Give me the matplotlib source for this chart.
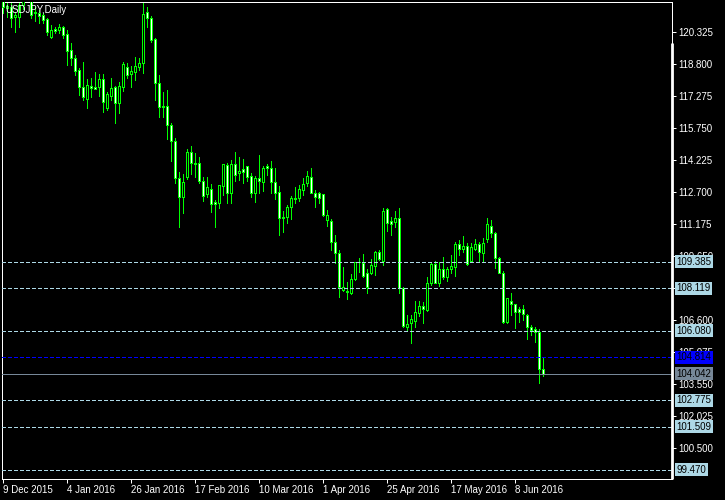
import matplotlib
matplotlib.use("Agg")
import matplotlib.pyplot as plt
import matplotlib.transforms as mtransforms
from matplotlib.patches import Rectangle

# USDJPY daily candles, 9 Dec 2015 .. 17 Jun 2016
opens = [121.90, 121.45, 121.53, 121.02, 121.06, 121.61, 122.20, 122.60, 121.21, 121.21,
         121.13, 120.94, 120.10, 120.45, 120.42, 120.55, 120.23, 119.47, 119.07, 118.51,
         117.69, 117.12, 117.77, 117.69, 117.69, 118.08, 116.69, 117.27, 117.69, 116.92,
         117.69, 118.67, 118.32, 118.43, 118.67, 118.83, 121.30, 120.98, 119.97, 117.91,
         116.82, 116.82, 115.89, 115.15, 113.35, 112.44, 113.40, 114.59, 114.07, 114.07,
         113.24, 112.60, 112.83, 112.24, 112.16, 112.99, 113.99, 112.67, 114.03, 113.62,
         113.78, 113.94, 113.46, 112.64, 113.35, 113.19, 113.94, 113.83, 113.19, 112.72,
         111.44, 111.52, 111.97, 112.40, 112.40, 112.80, 113.11, 113.43, 112.67, 112.64,
         112.60, 111.36, 111.33, 110.33, 109.78, 108.03, 107.97, 107.90, 108.54, 109.38,
         109.33, 108.82, 108.82, 109.19, 109.82, 109.43, 111.87, 111.32, 111.29, 111.45,
         108.11, 106.25, 106.44, 106.57, 106.95, 107.27, 107.08, 108.35, 109.27, 108.38,
         109.01, 108.63, 109.01, 109.11, 110.22, 109.97, 110.13, 109.43, 110.00, 110.22,
         109.78, 110.44, 111.08, 110.73, 109.54, 108.85, 106.52, 107.52, 107.36, 107.11,
         107.11, 106.84, 106.25, 106.15, 106.04, 104.25]
highs = [122.30, 121.75, 121.70, 121.29, 121.80, 122.30, 123.00, 122.90, 121.53, 121.37,
         121.21, 120.98, 120.66, 120.58, 120.71, 120.61, 120.42, 119.78, 119.23, 118.59,
         118.91, 118.08, 118.12, 118.43, 118.32, 118.32, 117.48, 118.12, 117.75, 117.96,
         118.91, 118.86, 118.70, 119.12, 119.07, 121.69, 121.53, 121.09, 120.02, 118.28,
         117.48, 117.56, 116.00, 115.26, 113.67, 113.56, 114.73, 114.89, 114.57, 114.35,
         113.40, 113.40, 113.08, 112.32, 113.02, 114.03, 114.07, 114.22, 114.62, 114.35,
         114.26, 113.94, 113.59, 113.46, 114.46, 113.94, 114.03, 114.19, 113.83, 112.99,
         111.81, 112.08, 112.51, 112.95, 113.03, 113.35, 113.72, 113.83, 112.80, 112.72,
         112.60, 111.84, 111.40, 110.65, 109.93, 109.11, 108.43, 108.79, 109.38, 109.54,
         109.74, 109.01, 109.49, 109.90, 109.93, 111.92, 111.92, 111.52, 111.81, 111.92,
         108.19, 106.84, 106.84, 107.52, 107.52, 107.47, 108.63, 109.38, 109.43, 109.38,
         109.58, 109.14, 109.70, 110.33, 110.41, 110.60, 110.25, 110.25, 110.44, 110.33,
         110.49, 111.44, 111.36, 110.80, 109.62, 108.95, 107.63, 107.90, 107.36, 107.24,
         107.31, 106.88, 106.36, 106.25, 106.15, 104.85]
lows = [121.25, 121.05, 120.58, 120.34, 120.58, 121.40, 122.00, 120.98, 120.86, 120.74,
        120.74, 120.18, 120.02, 120.26, 120.29, 120.02, 118.75, 118.75, 118.28, 117.32,
        117.08, 116.72, 117.24, 117.60, 117.27, 116.53, 116.61, 117.08, 115.97, 116.48,
        117.53, 118.12, 117.69, 118.04, 118.51, 118.39, 120.58, 119.86, 117.08, 116.29,
        116.29, 115.21, 114.19, 113.11, 111.01, 111.68, 113.30, 113.56, 113.40, 113.14,
        112.29, 112.45, 111.76, 111.05, 111.92, 112.56, 112.16, 112.16, 113.24, 113.27,
        113.14, 113.24, 112.45, 112.24, 112.64, 112.76, 113.51, 112.64, 112.35, 110.65,
        110.81, 111.24, 111.40, 112.16, 112.29, 112.56, 112.99, 112.64, 111.97, 112.16,
        111.56, 111.08, 109.94, 109.33, 107.68, 108.00, 107.58, 107.84, 108.50, 108.90,
        108.63, 107.87, 108.77, 108.74, 109.46, 109.22, 110.86, 110.65, 111.05, 107.87,
        106.25, 106.09, 105.52, 106.25, 106.79, 106.44, 107.04, 108.27, 108.35, 108.22,
        108.54, 108.47, 108.82, 108.70, 109.70, 109.86, 109.22, 109.43, 109.93, 109.43,
        109.43, 110.33, 110.54, 109.06, 108.82, 106.47, 106.47, 106.84, 106.20, 106.52,
        106.60, 105.68, 105.88, 105.56, 103.58, 103.95]
closes = [121.50, 121.55, 120.98, 121.13, 121.61, 122.20, 122.60, 121.13, 121.29, 121.09,
          120.90, 120.34, 120.42, 120.39, 120.55, 120.20, 119.43, 119.07, 118.48, 117.69,
          117.24, 117.80, 117.64, 117.63, 118.08, 117.00, 117.37, 117.64, 116.92, 117.75,
          118.80, 118.28, 118.48, 118.70, 118.86, 121.18, 120.98, 119.94, 117.91, 116.77,
          116.77, 115.89, 115.15, 113.35, 112.44, 113.19, 114.59, 114.07, 114.05, 113.24,
          112.52, 112.92, 112.13, 112.13, 113.02, 114.03, 112.67, 114.03, 113.51, 113.70,
          113.67, 113.43, 112.64, 113.35, 113.24, 113.83, 113.83, 113.19, 112.67, 111.44,
          111.52, 111.97, 112.40, 112.35, 112.83, 113.08, 113.46, 112.67, 112.48, 112.40,
          111.60, 111.60, 110.33, 109.78, 108.19, 108.19, 107.93, 108.54, 109.35, 109.36,
          108.70, 108.19, 109.22, 109.82, 109.49, 111.81, 111.21, 111.18, 111.45, 108.11,
          106.31, 106.40, 106.63, 106.99, 107.27, 107.11, 108.35, 109.27, 108.38, 109.01,
          108.63, 109.01, 109.17, 110.22, 109.97, 110.13, 109.27, 110.06, 110.22, 109.82,
          110.29, 111.17, 110.73, 109.54, 108.85, 106.52, 107.63, 107.36, 106.99, 106.99,
          106.88, 106.25, 106.12, 106.04, 104.25, 104.04]

date_pos = [0, 16, 32, 48, 64, 80, 96, 112, 128]
date_labels = ["9 Dec 2015", "4 Jan 2016", "26 Jan 2016", "17 Feb 2016", "10 Mar 2016",
               "1 Apr 2016", "25 Apr 2016", "17 May 2016", "8 Jun 2016"]
price_ticks = [120.325, 118.800, 117.275, 115.750, 114.225, 112.700, 111.175,
               109.650, 108.125, 106.600, 105.075, 103.550, 102.025, 100.500]
# 108.125 sits fully under the 108.119 label in the screenshot
price_tick_labels = ["120.325", "118.800", "117.275", "115.750", "114.225", "112.700",
                     "111.175", "109.650", "", "106.600", "105.075", "103.550",
                     "102.025", "100.500"]
levels = [109.385, 108.119, 106.080, 102.775, 101.509, 99.470]
blue_level = 104.814
bid = 104.042

plt.rcParams['font.family'] = ['Liberation Sans', 'DejaVu Sans']
fs = 7

fig = plt.figure(figsize=(7.25, 5.0), dpi=100, facecolor='black')
ax = fig.add_axes([2 / 725, 21 / 500, 670 / 725, 477 / 500])
ax.set_facecolor('black')

px = 0.72  # one pixel in points
green = '#00ff00'

for i in range(len(opens)):
    o, h, l, c = opens[i], highs[i], lows[i], closes[i]
    ax.plot([i, i], [l, h], color=green, lw=px, zorder=2, solid_capstyle='butt',
            antialiased=False)
    fill = 'black' if c >= o else 'white'
    ax.add_patch(Rectangle((i - 0.25, min(o, c)), 0.5, abs(c - o), facecolor=fill,
                           edgecolor=green, lw=px, zorder=3, antialiased=False))

ax.set_xlim(-0.2, 167.3)
ax.set_ylim(99.019, 121.755)

# horizontal levels
for v in levels:
    ax.axhline(v, color='#add8e6', lw=0.8, ls=(0, (3, 2)), zorder=4, antialiased=False)
ax.axhline(blue_level, color='#0000ff', lw=1.0, ls=(0, (2.2, 1.5)), zorder=4,
           antialiased=False)
ax.axhline(bid, color='#778899', lw=px, zorder=4, antialiased=False)

# axes look
for s in ax.spines.values():
    s.set_color('white')
    s.set_linewidth(px)

ax.yaxis.tick_right()
ax.set_yticks(price_ticks)
ax.set_yticklabels(price_tick_labels)
ax.set_xticks(date_pos)
ax.set_xticklabels(date_labels)
ax.tick_params(axis='both', colors='white', labelsize=fs, length=3.2, width=px,
               direction='out')
ax.tick_params(axis='y', pad=1.5)
ax.tick_params(axis='x', pad=1.2)
for lbl in ax.get_xticklabels():
    lbl.set_ha('left')

tr = mtransforms.blended_transform_factory(ax.transAxes, ax.transData)

# thick part of the right border
ax.plot([1, 1], [119.80, 99.019], transform=tr, color='white', lw=2.0,
        clip_on=False, solid_capstyle='butt', zorder=6)

def price_label(v, bg):
    ax.annotate(f"{v:.3f}", xy=(1, v), xycoords=tr, xytext=(4.5, 0),
                textcoords='offset pixels', ha='left', va='center', fontsize=fs,
                color='black', annotation_clip=False, zorder=7,
                bbox=dict(boxstyle='square,pad=0.15', fc=bg, ec='none'))

for v in levels:
    price_label(v, '#add8e6')
price_label(blue_level, '#0000ff')
price_label(bid, '#778899')

ax.text(0.0045, 0.994, "USDJPY,Daily", transform=ax.transAxes, color='white',
        fontsize=fs, ha='left', va='top', zorder=8)

fig.savefig('out.png', dpi=100, facecolor='black')
